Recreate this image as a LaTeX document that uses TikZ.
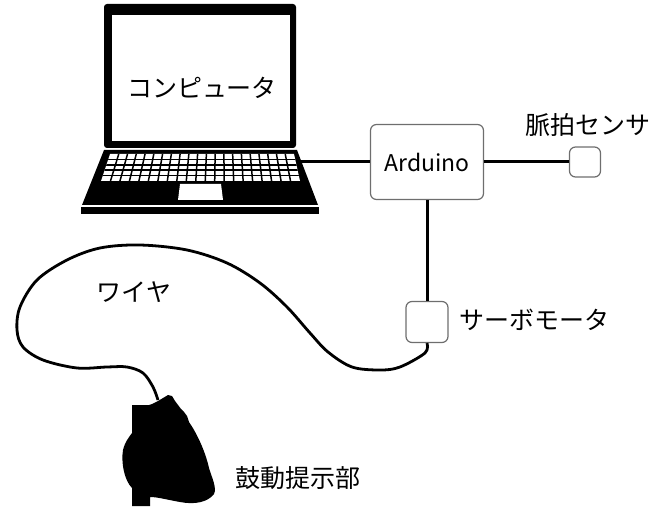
\documentclass[tikz,border=0pt]{standalone}
\usepackage{fontspec}
\setmainfont{Noto Sans CJK JP}
\usetikzlibrary{positioning}
\definecolor{boxgray}{RGB}{110,110,110}

\tikzset{
  unit/.style={draw=boxgray, line width=1.2pt, fill=white, rounded corners=6pt},
  cable/.style={line width=3pt},
  jplabel/.style={font=\fontsize{25}{29}\selectfont, inner sep=0pt},
}

\begin{document}
\begin{tikzpicture}[x=1pt,y=-1pt]
    \useasboundingbox (0,0) rectangle (665,508);

    % Laptop screen
    \fill[rounded corners=3pt] (104,4) rectangle (296,148);
    \fill[white] (112,15) rectangle (290,141);
    \node[jplabel] (pcname) at (202,88) {コンピュータ};

    % Laptop base
    \fill (104,150) -- (297,150) -- (318,205) -- (82,205) -- cycle;
    \fill (81,207) rectangle (319,214);
    % keyboard
    \begin{scope}
        \clip (110,154) -- (294,154) -- (300,181) -- (101,181) -- cycle;
        \fill[white] (90,150) rectangle (310,185);
        \foreach \j in {1,...,20}
            \draw[line width=1.5pt] (110+184*\j/21,154) -- (101+199*\j/21,181);
        \foreach \i in {1,...,4}
            \draw[line width=1.5pt] (90,154+27*\i/5) -- (310,154+27*\i/5);
    \end{scope}
    % touchpad
    \fill[white] (180,184) -- (221,184) -- (223,200) -- (178,200) -- cycle;
    \coordinate (pc) at (301,162);

    % Boxes
    \node[unit, minimum width=113pt, minimum height=75pt] (arduino) at (427,162) {\fontsize{23}{27}\selectfont Arduino};
    \node[unit, minimum width=31pt, minimum height=30pt] (sensor) at (585,162) {};
    \node[unit, minimum width=42pt, minimum height=41pt] (servo) at (427,322) {};
    \node[jplabel] (sensorname) at (588,125) {脈拍センサ};
    \node[jplabel] (servoname) at (534,320) {サーボモータ};

    % Cables
    \draw[cable] (pc) -- (arduino.west);
    \draw[cable] (arduino.east) -- (sensor.west);
    \draw[cable] (arduino.south) -- (servo.north);

    % Heart
    \fill (132,405) -- (149,405) -- (152,404) -- (158,401) -- (163,398) -- (168,395)
        -- (172,396) -- (175,401) -- (178,405) -- (181,409) -- (184,412) -- (187,416)
        -- (189,422) .. controls (196,432) and (205,450) .. (209,468)
        .. controls (212,478) and (217,488) .. (214,494)
        .. controls (208,502) and (195,505) .. (180,502)
        .. controls (168,500) and (158,497) .. (150,497)
        -- (150,506) -- (132,506) -- (132,488)
        .. controls (124,480) and (121,462) .. (123,450)
        .. controls (125,442) and (129,437) .. (132,433) -- cycle;
    \coordinate (heart) at (158,400);
    \node[jplabel] (heartname) at (298,478) {鼓動提示部};

    % Wire
    \draw[line width=2.8pt] plot[smooth, tension=0.55] coordinates {
        (servo.south) (425,353) (400,367) (380,370) (352,367) (328,352) (310,333)
        (287,307) (260,283) (227,263) (187,250) (140,245) (100,248) (67,260)
        (37,280) (20,307) (17,330) (23,347) (43,360) (77,368) (107,367)
        (127,367) (143,373) (153,387) (heart)};
    \node[jplabel] (wirename) at (134,292) {ワイヤ};
\end{tikzpicture}
\end{document}
